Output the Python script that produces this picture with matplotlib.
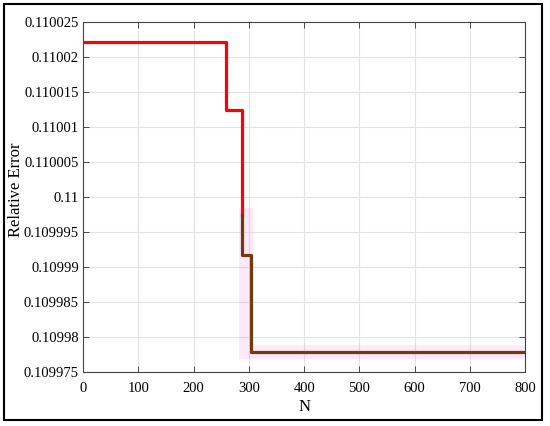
import matplotlib.pyplot as plt
from matplotlib.patches import Rectangle
from matplotlib.ticker import FuncFormatter

plt.rcParams['font.family'] = ['Liberation Serif', 'DejaVu Serif']

# step data
red_n = [0, 258, 258, 287, 287]
red_err = [0.1100222, 0.1100222, 0.1100124, 0.1100124, 0.1099974]

brown_n = [287, 287, 303, 303, 800]
brown_err = [0.1099974, 0.1099917, 0.1099917, 0.1099779, 0.1099779]

pink_n = [295, 295, 800]
pink_err = [0.1099974, 0.1099779, 0.1099779]

xticks = list(range(0, 801, 100))
yticks = [0.109975, 0.10998, 0.109985, 0.10999, 0.109995, 0.11,
          0.110005, 0.11001, 0.110015, 0.11002, 0.110025]

fig = plt.figure(figsize=(5.5, 4.26), dpi=100)
ax = fig.add_axes([0.151, 0.127, 0.804, 0.821])

ax.plot(pink_n, pink_err, color='#ff66dd', alpha=0.15, lw=10, solid_joinstyle='miter')
ax.plot(red_n, red_err, color='#ff0000', lw=2.3)
ax.plot(brown_n, brown_err, color='#6e3c0c', lw=2.3)

ax.set_xlim(0, 800)
ax.set_ylim(0.109975, 0.110025)
ax.set_xticks(xticks)
ax.set_yticks(yticks)
ax.yaxis.set_major_formatter(FuncFormatter(lambda v, p: '{:g}'.format(round(v, 7))))
ax.tick_params(direction='in', top=True, right=True, labelsize=10.5, length=4, width=0.6, color='#333333')
ax.tick_params(axis='x', pad=7)
ax.tick_params(axis='y', pad=3)
ax.grid(True, color='#e3e3e3', lw=0.8)
ax.set_axisbelow(True)
for s in ax.spines.values():
    s.set_color('#444444')
    s.set_linewidth(0.8)

ax.set_xlabel('N', fontsize=12, labelpad=3)
ax.set_ylabel('Relative Error', fontsize=12)
ax.yaxis.set_label_coords(-0.134, 0.52)

fig.patches.append(Rectangle((0.0073, 0.014), 0.978, 0.9765, transform=fig.transFigure,
                             fill=False, edgecolor='black', lw=1.5))

fig.savefig('out.png', dpi=100)
